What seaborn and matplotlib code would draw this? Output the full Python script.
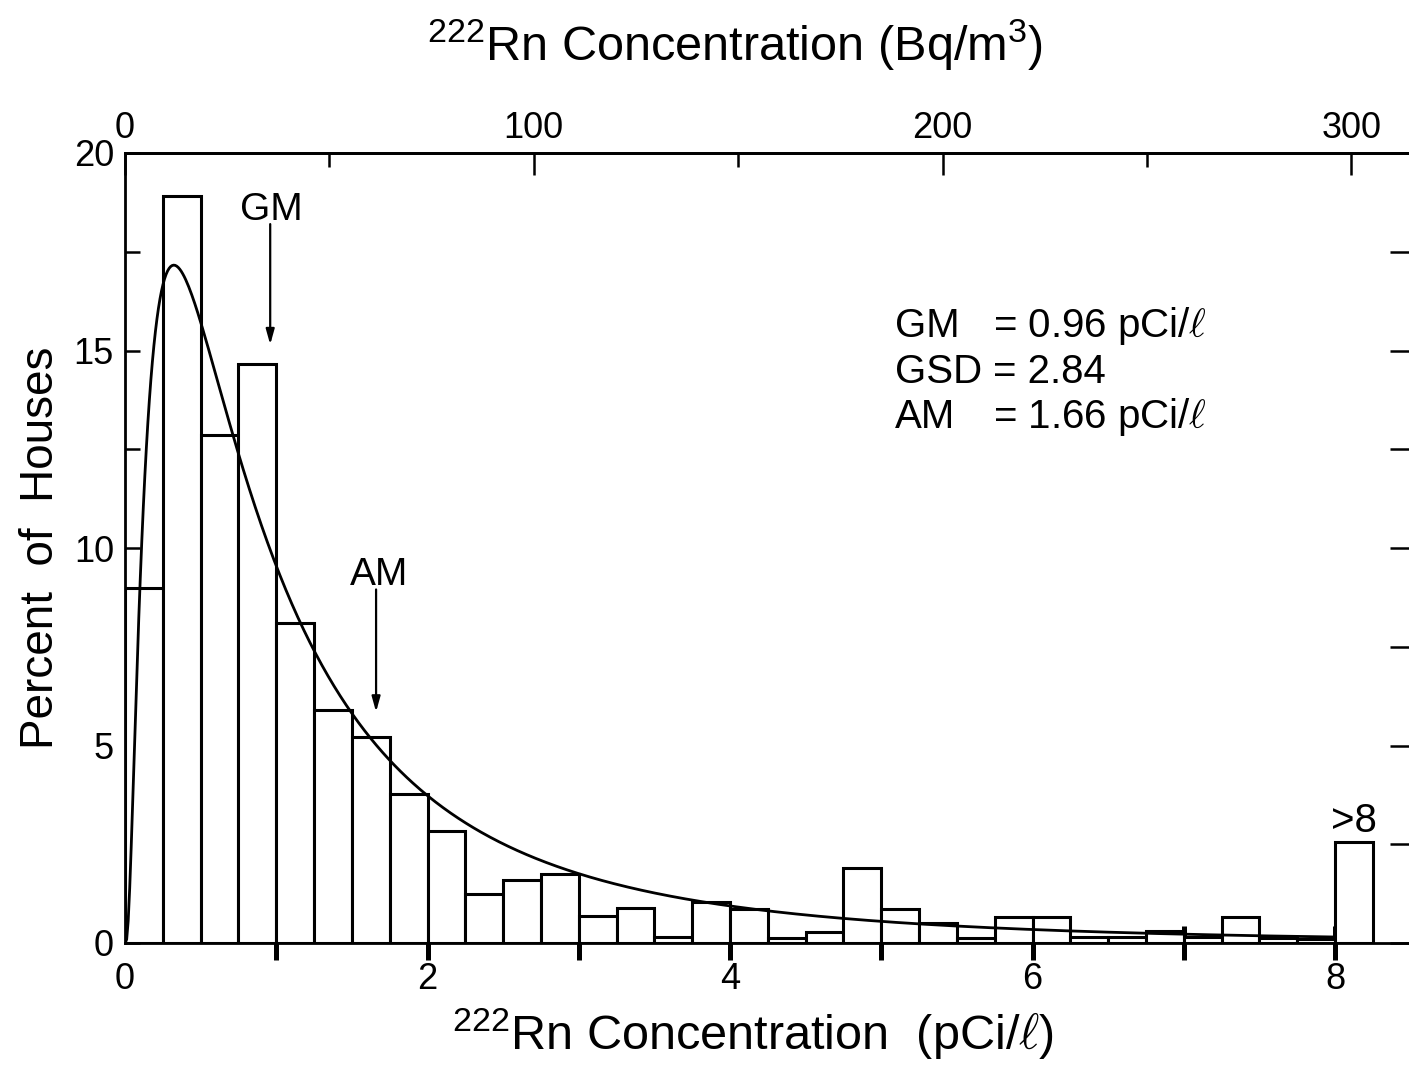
import numpy as np
import pandas as pd
import matplotlib
matplotlib.use("Agg")
import matplotlib.pyplot as plt
from matplotlib.ticker import FixedLocator, FixedFormatter
import seaborn as sns

# ---- data ----
bin_width = 0.25
bin_left = [0.00, 0.25, 0.50, 0.75, 1.00, 1.25, 1.50, 1.75, 2.00, 2.25, 2.50,
            2.75, 3.00, 3.25, 3.50, 3.75, 4.00, 4.25, 4.50, 4.75, 5.00, 5.25,
            5.50, 5.75, 6.00, 6.25, 6.50, 6.75, 7.00, 7.25, 7.50, 7.75, 8.00]
percent = [9.0, 18.9, 12.85, 14.65, 8.1, 5.9, 5.22, 3.76, 2.84, 1.24, 1.6,
           1.75, 0.68, 0.88, 0.14, 1.04, 0.86, 0.13, 0.29, 1.9, 0.86, 0.5,
           0.13, 0.66, 0.66, 0.15, 0.14, 0.3, 0.14, 0.66, 0.13, 0.1, 2.55]
GM = 0.96      # pCi/l
GSD = 2.84
AM = 1.66      # pCi/l
bq_per_pci = 37.0

bottom_ticks = [0, 1, 2, 3, 4, 5, 6, 7, 8]
bottom_labels = ["0", "", "2", "", "4", "", "6", "", "8"]
left_ticks = [0, 2.5, 5, 7.5, 10, 12.5, 15, 17.5, 20]
left_labels = ["0", "", "5", "", "10", "", "15", "", "20"]
top_major = [0, 100, 200, 300]
top_minor = [50, 150, 250]

# ---- style ----
sns.set_style("ticks")
plt.rcParams['font.family'] = ['Liberation Sans', 'DejaVu Sans']
plt.rcParams['mathtext.fontset'] = 'custom'
plt.rcParams['mathtext.rm'] = 'Liberation Sans'
plt.rcParams['mathtext.it'] = 'DejaVu Serif:italic'
plt.rcParams['axes.linewidth'] = 2.0
for k in ['text.color', 'axes.labelcolor', 'xtick.color', 'ytick.color',
          'axes.edgecolor', 'xtick.labelcolor', 'ytick.labelcolor']:
    plt.rcParams[k] = 'black'

TICK_FS = 26
LABEL_FS = 35
YLABEL_FS = 33
NOTE_FS = 29

W, H = 1409, 1087
fig = plt.figure(figsize=(W / 100, H / 100), dpi=100)
x0, x1, y0, y1 = 125, 1409, 943, 153
ax = fig.add_axes([x0 / W, 1 - y0 / H, (x1 - x0) / W, (y0 - y1) / H])

hist_df = pd.DataFrame({"center": [b + bin_width / 2 for b in bin_left],
                        "percent": [float(p) for p in percent]})
sns.histplot(data=hist_df, x="center", weights="percent",
             binwidth=bin_width, binrange=(bin_left[0], bin_left[-1] + bin_width),
             color="white", edgecolor="black", linewidth=2.2, alpha=1.0, ax=ax)

# fitted lognormal curve (GM, GSD), scaled to percent per bin
xs = np.linspace(0.001, 8.0, 800)
sig = np.log(GSD)
curve = 100 * bin_width * np.exp(-(np.log(xs / GM)) ** 2 / (2 * sig ** 2)) / (xs * sig * np.sqrt(2 * np.pi))
curve_df = pd.DataFrame({"x": np.concatenate([[0.0], xs]),
                         "y": np.concatenate([[0.0], curve])})
sns.lineplot(data=curve_df, x="x", y="y", color="black", linewidth=2.0, ax=ax,
             errorbar=None, sort=False)

ax.set_xlim(0, (x1 - x0) / 151.25)
ax.set_ylim(0, 20)

# spines
ax.spines['right'].set_visible(False)
for s in ['left', 'bottom', 'top']:
    ax.spines[s].set_linewidth(2.0)
    ax.spines[s].set_color('black')

# bottom ticks
ax.xaxis.set_major_locator(FixedLocator(bottom_ticks))
ax.xaxis.set_major_formatter(FixedFormatter(bottom_labels))
ax.tick_params(axis='x', which='major', direction='inout', length=24,
               width=3.6, labelsize=TICK_FS, pad=2, top=False)
ax.xaxis.get_major_ticks()[0].tick1line.set_visible(False)

# left / right ticks
ax.yaxis.set_major_locator(FixedLocator(left_ticks))
ax.yaxis.set_major_formatter(FixedFormatter(left_labels))
ax.tick_params(axis='y', which='major', direction='in', length=11,
               width=1.8, labelsize=TICK_FS, pad=8, right=True, left=True)
for t in ax.yaxis.get_major_ticks():
    t.tick2line.set_markersize(14)

# top axis in Bq/m3
sec = ax.secondary_xaxis('top', functions=(lambda x: x * bq_per_pci,
                                           lambda b: b / bq_per_pci))
sec.xaxis.set_major_locator(FixedLocator(top_major))
sec.xaxis.set_minor_locator(FixedLocator(top_minor))
sec.tick_params(axis='x', which='major', direction='in', length=16, width=1.8,
                labelsize=TICK_FS, pad=5, color='black', labelcolor='black')
sec.tick_params(axis='x', which='minor', direction='in', length=10, width=1.8,
                color='black')
sec.spines['top'].set_linewidth(2.0)
sec.spines['top'].set_color('black')

ax.set_xlabel("")
ax.set_ylabel("Percent  of  Houses", fontsize=YLABEL_FS)
ax.yaxis.set_label_coords((63 - x0) / (x1 - x0), 0.5)

fig.text(735 / W, 1 - 61 / H, r"$^{222}$Rn Concentration (Bq/m$^{3}$)",
         ha='center', va='baseline', fontsize=LABEL_FS)
fig.text(753 / W, 1 - 1050 / H, r"$^{222}$Rn Concentration  (pCi/$\mathit{\ell}$)",
         ha='center', va='baseline', fontsize=LABEL_FS)

# annotations
ax.annotate("", xy=(GM, 15.15), xytext=(GM, 18.2),
            arrowprops=dict(arrowstyle='-|>,head_length=0.9,head_width=0.25',
                            color='black', lw=1.6, shrinkA=0, shrinkB=0))
ax.text(GM + 0.01, 18.3, "GM", ha='center', va='baseline', fontsize=NOTE_FS - 1)
ax.annotate("", xy=(AM, 5.85), xytext=(AM, 8.95),
            arrowprops=dict(arrowstyle='-|>,head_length=0.9,head_width=0.25',
                            color='black', lw=1.6, shrinkA=0, shrinkB=0))
ax.text(AM + 0.02, 9.06, "AM", ha='center', va='baseline', fontsize=NOTE_FS - 1)
ax.text(8.125, 2.82, ">8", ha='center', va='baseline', fontsize=NOTE_FS)

# statistics box
tx, ex = 5.09, 5.74
rows = [("GM", f"= {GM:.2f} pCi/$\\mathit{{\\ell}}$"),
        ("GSD", f"= {GSD:.2f}"),
        ("AM", f"= {AM:.2f} pCi/$\\mathit{{\\ell}}$")]
ys = [15.34, 14.18, 13.04]
for (lab, val), yy in zip(rows, ys):
    ax.text(tx, yy, lab, ha='left', va='baseline', fontsize=NOTE_FS)
    ax.text(ex, yy, val, ha='left', va='baseline', fontsize=NOTE_FS)

fig.savefig("out.png", dpi=100)
